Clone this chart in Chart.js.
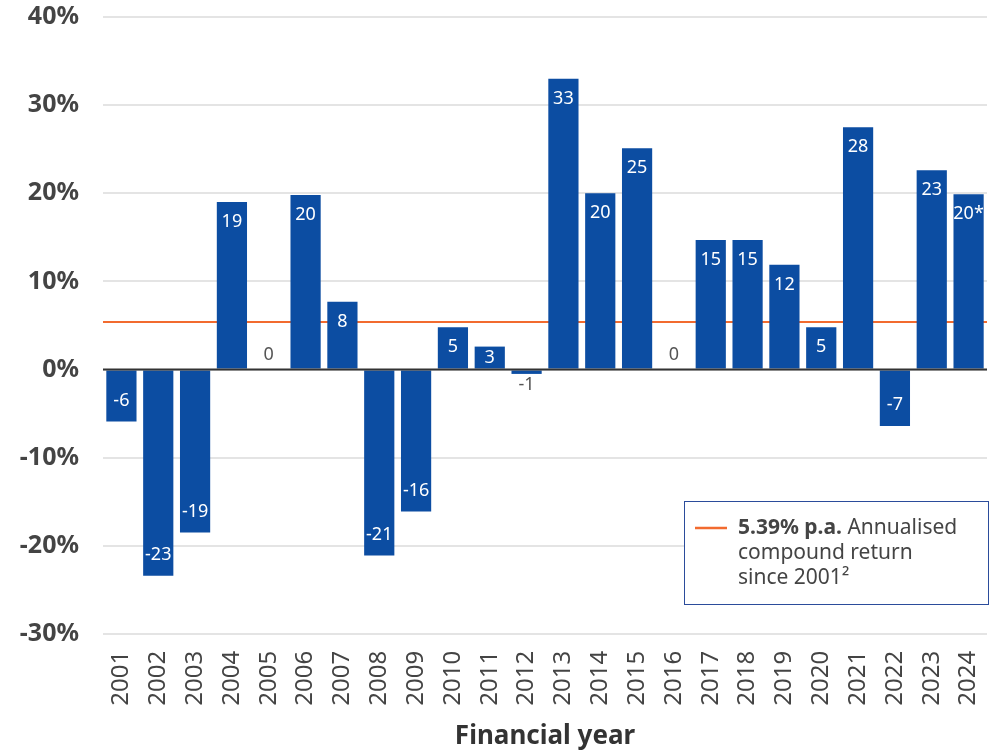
<!DOCTYPE html>
<html>
<head>
<meta charset="utf-8">
<script src="https://cdn.jsdelivr.net/npm/chart.js@4.4.0/dist/chart.umd.min.js"></script>
<style>
  html, body { margin: 0; padding: 0; background: #fff; }
  #wrap { width: 997px; height: 752px; }
</style>
</head>
<body>
<div id="wrap"><canvas id="chart" width="997" height="752"></canvas></div>
<script>
const years = ['2001','2002','2003','2004','2005','2006','2007','2008','2009','2010','2011','2012',
  '2013','2014','2015','2016','2017','2018','2019','2020','2021','2022','2023','2024'];
const returns = [-5.9, -23.4, -18.5, 19.0, 0, 19.8, 7.7, -21.1, -16.1, 4.8, 2.6, -0.5,
  33.0, 20.0, 25.1, 0, 14.7, 14.7, 11.9, 4.8, 27.5, -6.4, 22.6, 19.9];
const barLabels = ['-6','-23','-19','19','0','20','8','-21','-16','5','3','-1',
  '33','20','25','0','15','15','12','5','28','-7','23','20*'];
const compoundReturn = 5.39;

const FONT = '"Noto Sans", sans-serif';
const BLUE = '#0c4da2';
const ORANGE = '#f26b2f';

// orange average line behind bars, zero line + value labels on top
const overlay = {
  id: 'overlay',
  beforeDatasetsDraw(chart) {
    const { ctx, chartArea, scales } = chart;
    const y = scales.y.getPixelForValue(compoundReturn);
    ctx.save();
    ctx.strokeStyle = ORANGE;
    ctx.lineWidth = 2;
    ctx.beginPath();
    ctx.moveTo(chartArea.left, y);
    ctx.lineTo(chartArea.right, y);
    ctx.stroke();
    ctx.restore();
  },
  afterDatasetsDraw(chart) {
    const { ctx, chartArea, scales } = chart;
    const y0 = scales.y.getPixelForValue(0);
    ctx.save();
    ctx.strokeStyle = '#333';
    ctx.lineWidth = 2;
    ctx.beginPath();
    ctx.moveTo(chartArea.left, y0);
    ctx.lineTo(chartArea.right, y0);
    ctx.stroke();

    ctx.font = '18px ' + FONT;
    ctx.textAlign = 'center';
    ctx.textBaseline = 'middle';
    const bars = chart.getDatasetMeta(0).data;
    bars.forEach((bar, i) => {
      const v = returns[i];
      const h = Math.abs(y0 - bar.y);
      if (Math.abs(v) >= 2) {
        const off = Math.min(20, h / 2);
        ctx.fillStyle = '#fff';
        ctx.fillText(barLabels[i], bar.x, v > 0 ? bar.y + off : bar.y - off - 1);
      } else {
        ctx.fillStyle = '#555';
        ctx.fillText(barLabels[i], bar.x, v >= 0 ? y0 - 15 : bar.y + 11);
      }
    });

    // legend box
    const bx = 684, by = 501, bw = 304, bh = 103;
    ctx.fillStyle = '#fff';
    ctx.fillRect(bx, by, bw, bh);
    ctx.strokeStyle = '#2b4c9b';
    ctx.lineWidth = 1;
    ctx.strokeRect(bx + 0.5, by + 0.5, bw, bh);
    ctx.strokeStyle = ORANGE;
    ctx.lineWidth = 2.5;
    ctx.beginPath();
    ctx.moveTo(695, 528);
    ctx.lineTo(727, 528);
    ctx.stroke();

    ctx.textAlign = 'left';
    ctx.fillStyle = '#444';
    ctx.font = 'bold 21px ' + FONT;
    const bold = '5.39% p.a.';
    ctx.fillText(bold, 738, 528);
    const w = ctx.measureText(bold).width;
    ctx.font = '21px ' + FONT;
    ctx.fillText(' Annualised', 738 + w, 528);
    ctx.fillText('compound return', 738, 553);
    ctx.fillText('since 2001²', 738, 578);
    ctx.restore();
  }
};

new Chart(document.getElementById('chart'), {
  type: 'bar',
  data: {
    labels: years,
    datasets: [{
      data: returns,
      backgroundColor: BLUE,
      borderWidth: 0,
      barPercentage: 0.82,
      categoryPercentage: 1.0
    }]
  },
  options: {
    responsive: false,
    animation: false,
    layout: { padding: { left: 8, right: 10, top: 17, bottom: 0 } },
    plugins: { legend: { display: false }, tooltip: { enabled: false } },
    scales: {
      x: {
        grid: { display: false },
        border: { display: false },
        ticks: {
          color: '#444',
          font: { family: FONT, size: 24 },
          minRotation: 90,
          maxRotation: 90,
          padding: 9
        },
        title: {
          display: true,
          text: 'Financial year',
          color: '#333',
          font: { family: FONT, size: 26, weight: 'bold' },
          padding: { top: 6, bottom: 0 }
        },
        afterFit: s => { s.paddingLeft = 0; s.paddingRight = 0; }
      },
      y: {
        min: -30,
        max: 40,
        ticks: {
          stepSize: 10,
          color: '#444',
          padding: 24,
          font: { family: FONT, size: 25, weight: 'bold' },
          callback: v => v + '%'
        },
        grid: {
          color: '#e4e4e4',
          lineWidth: 2,
          drawTicks: false
        },
        border: { display: false },
        afterFit: s => { s.width = 95; s.paddingTop = 0; s.paddingBottom = 0; }
      }
    }
  },
  plugins: [overlay]
});
</script>
</body>
</html>
